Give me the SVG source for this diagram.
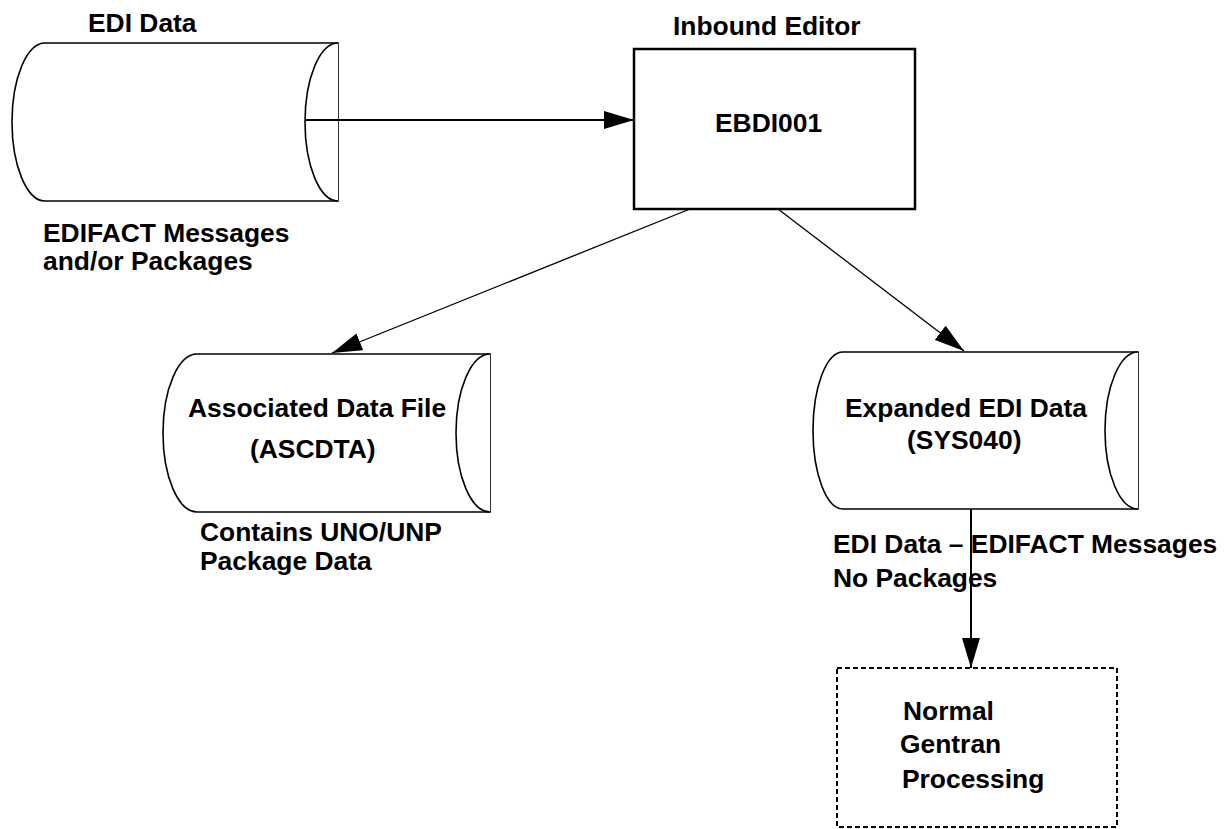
<svg xmlns="http://www.w3.org/2000/svg" width="1227" height="829" viewBox="0 0 1227 829">
<style>
  .t { font-family: "Liberation Sans", Arial, sans-serif; font-weight: bold; font-size: 26.4px; fill: #000; }
  .cyl { fill: #fff; stroke: #000; stroke-width: 1.6; }
  .box { fill: #fff; stroke: #000; stroke-width: 2.5; }
  .dbox { fill: #fff; stroke: #000; stroke-width: 2; stroke-dasharray: 5 3; }
  .con { fill: none; stroke: #000; }
</style>
<defs>
  <marker id="ah" viewBox="0 0 30 18" refX="30" refY="9" markerWidth="30" markerHeight="18" markerUnits="userSpaceOnUse" orient="auto">
    <path d="M0,0 L30,9 L0,18 z" fill="#000"/>
  </marker>
</defs>
<rect width="1227" height="829" fill="#fff"/>

<g id="edi-data">
  <path class="cyl" d="M45,43 L338,43 L338,201 L45,201 A33,79 0 0 1 45,43 Z"/>
  <path class="cyl" fill="none" d="M338,43 A33,79 0 0 0 338,201"/>
  <text class="t" x="88" y="32">EDI Data</text>
  <text class="t" x="43" y="242">EDIFACT Messages</text>
  <text class="t" x="43" y="270">and/or Packages</text>
</g>

<g id="inbound-editor">
  <rect class="box" x="634" y="49" width="281" height="160"/>
  <text class="t" x="673" y="35">Inbound Editor</text>
  <text class="t" x="715" y="132">EBDI001</text>
</g>

<g id="associated-data-file">
  <path class="cyl" d="M197,354 L490,354 L490,512 L197,512 A34,79 0 0 1 197,354 Z"/>
  <path class="cyl" fill="none" d="M490,354 A34,79 0 0 0 490,512"/>
  <text class="t" x="188" y="417">Associated Data File</text>
  <text class="t" x="250" y="458">(ASCDTA)</text>
  <text class="t" x="200" y="541">Contains UNO/UNP</text>
  <text class="t" x="200" y="570">Package Data</text>
</g>

<g id="expanded-edi-data">
  <path class="cyl" d="M843,352 L1138,352 L1138,509 L843,509 A30,78.5 0 0 1 843,352 Z"/>
  <path class="cyl" fill="none" d="M1138,352 A33,78.5 0 0 0 1138,509"/>
  <text class="t" x="845" y="417">Expanded EDI Data</text>
  <text class="t" x="907" y="449">(SYS040)</text>
  <text class="t" x="833" y="553">EDI Data – EDIFACT Messages</text>
  <text class="t" x="833" y="587">No Packages</text>
</g>

<g id="normal-gentran">
  <rect class="dbox" x="837" y="668" width="280" height="159"/>
  <text class="t" x="903" y="720">Normal</text>
  <text class="t" x="900" y="753">Gentran</text>
  <text class="t" x="902" y="788">Processing</text>
</g>

<g id="connectors">
  <line class="con" stroke-width="2" x1="305" y1="120" x2="634" y2="120" marker-end="url(#ah)"/>
  <line class="con" stroke-width="1.3" x1="690" y1="209" x2="332" y2="353" marker-end="url(#ah)"/>
  <line class="con" stroke-width="1.3" x1="778" y1="209" x2="964" y2="351" marker-end="url(#ah)"/>
  <line class="con" stroke-width="2" x1="971" y1="509" x2="971" y2="668" marker-end="url(#ah)"/>
</g>
</svg>
